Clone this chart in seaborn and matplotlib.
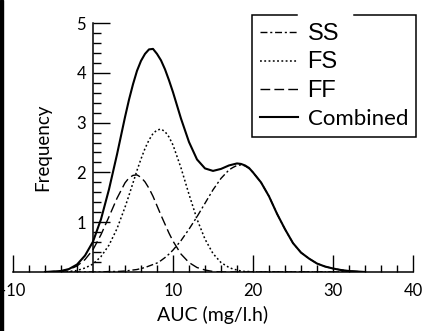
import matplotlib
matplotlib.use("Agg")
import numpy as np
import matplotlib.pyplot as plt
import seaborn as sns
from matplotlib.ticker import FixedLocator
from matplotlib.patches import Rectangle
from matplotlib.lines import Line2D

# values (AUC in mg/l.h), finer near the peaks
auc = [-6, -5, -4, -3, -2, -1, 0, 1, 2, 3, 4, 4.5, 5, 5.5, 6, 6.5, 7, 7.5,
       8, 8.5, 9, 9.5, 10, 11, 12, 13, 14, 15, 16, 17, 17.5, 18, 18.5, 19,
       19.5, 20, 21, 22, 23, 24, 25, 26, 27, 28, 29, 30, 31, 32, 33, 34]

ss_freq = [0, 0, 0, 0, 0, 0, 0, 0, 0.01, 0.01, 0.02, 0.03, 0.04, 0.05, 0.07,
           0.09, 0.12, 0.15, 0.18, 0.23, 0.29, 0.36, 0.44, 0.63, 0.86, 1.11,
           1.38, 1.65, 1.88, 2.05, 2.10, 2.14, 2.15, 2.13, 2.08, 2.00, 1.80,
           1.52, 1.17, 0.86, 0.58, 0.39, 0.27, 0.17, 0.11, 0.07, 0.04, 0.02,
           0.01, 0]

fs_freq = [0, 0, 0, 0.01, 0.03, 0.08, 0.16, 0.31, 0.54, 0.87, 1.30, 1.54,
           1.79, 2.04, 2.27, 2.48, 2.65, 2.78, 2.85, 2.87, 2.82, 2.71, 2.55,
           2.09, 1.56, 1.06, 0.66, 0.37, 0.19, 0.09, 0.06, 0.04, 0.02, 0.01,
           0.01, 0, 0, 0, 0, 0, 0, 0, 0, 0, 0, 0, 0, 0, 0, 0]

ff_freq = [0, 0.01, 0.02, 0.05, 0.12, 0.25, 0.45, 0.75, 1.11, 1.48, 1.79,
           1.89, 1.94, 1.95, 1.90, 1.81, 1.68, 1.52, 1.33, 1.14, 0.96, 0.78,
           0.62, 0.36, 0.19, 0.09, 0.04, 0.01, 0, 0, 0, 0, 0, 0, 0, 0, 0, 0,
           0, 0, 0, 0, 0, 0, 0, 0, 0, 0, 0, 0]

combined_freq = [0, 0.01, 0.02, 0.06, 0.15, 0.33, 0.61, 1.06, 1.66, 2.36,
                 3.11, 3.46, 3.77, 4.04, 4.24, 4.38, 4.47, 4.48, 4.38, 4.25,
                 4.07, 3.85, 3.61, 3.08, 2.61, 2.26, 2.08, 2.03, 2.07, 2.14,
                 2.16, 2.18, 2.17, 2.14, 2.09, 2.00, 1.80, 1.52, 1.17, 0.86,
                 0.58, 0.39, 0.27, 0.17, 0.11, 0.07, 0.04, 0.02, 0.01, 0]

x_ticks = [-10, 10, 20, 30, 40]
y_ticks = [1, 2, 3, 4, 5]

plt.rcParams["font.family"] = ["Lato", "DejaVu Sans"]

fig = plt.figure(figsize=(4.28, 3.31), dpi=100)
ax = fig.add_axes([13 / 428, 59 / 331, 400 / 428, 249 / 331])

sns.lineplot(x=auc, y=ss_freq, ax=ax, color="black", lw=1.0,
             linestyle=(0, (5, 2, 1.5, 2)), label="SS")
sns.lineplot(x=auc, y=fs_freq, ax=ax, color="black", lw=1.1,
             linestyle=(0, (1.2, 1.6)), label="FS")
sns.lineplot(x=auc, y=ff_freq, ax=ax, color="black", lw=1.0,
             linestyle=(0, (7, 3)), label="FF")
sns.lineplot(x=auc, y=combined_freq, ax=ax, color="black", lw=1.5,
             linestyle="-", label="Combined")

ax.set_xlim(-10, 40)
ax.set_ylim(0, 5)

# y axis crosses at x = 0, ticks point inward
ax.spines["top"].set_visible(False)
ax.spines["right"].set_visible(False)
ax.spines["left"].set_position(("data", 0))
for s in ("left", "bottom"):
    ax.spines[s].set_color("black")
    ax.spines[s].set_linewidth(1.1)

ax.xaxis.set_major_locator(FixedLocator(x_ticks))
ax.yaxis.set_major_locator(FixedLocator(y_ticks))
ax.set_xticklabels([str(t) for t in x_ticks])
ax.set_yticklabels([str(t) for t in y_ticks])

ax.tick_params(which="both", direction="in", color="black", width=1.0)
ax.tick_params(axis="x", which="major", length=12, pad=8, labelsize=12)
ax.tick_params(axis="y", which="major", length=12, pad=5, labelsize=12)

# short ticks drawn as segments (minor ticks kept vanishing)
x_minor = [v for v in np.arange(-8, 40, 2) if v % 10 != 0]
y_minor = [v for v in np.round(np.arange(0.2, 5.0, 0.2), 1) if v % 1 != 0]
ax.vlines(x_minor, 0, 7 / 249, transform=ax.get_xaxis_transform(),
          color="black", lw=1.0, clip_on=False, zorder=3)
ax.vlines([0], 0, 0, color="black")
ax.hlines(y_minor, 0.2, 0.2 + 8 / 400, transform=ax.get_yaxis_transform(),
          color="black", lw=1.0, clip_on=False, zorder=3)

ax.set_xlabel("AUC (mg/l.h)", fontsize=14)
ax.set_ylabel("Frequency", fontsize=13.5)
ax.xaxis.set_label_coords(0.5, -0.135)
ax.yaxis.set_label_coords(0.095, 0.5)

leg = ax.legend(loc="upper left", bbox_to_anchor=(252 / 428, 1 - 15 / 331),
                bbox_transform=fig.transFigure, borderaxespad=0,
                fontsize=16, frameon=True, fancybox=False, framealpha=1,
                edgecolor="black", handlelength=1.7, handletextpad=0.45,
                labelspacing=0.3, borderpad=0.35)
leg.get_frame().set_linewidth(1.1)
for txt in leg.get_texts():
    if txt.get_text() != "Combined":
        txt.set_fontfamily(["Liberation Sans", "DejaVu Sans"])
        txt.set_fontsize(17)

# scan artefacts: dark strip on the left edge, gap in the legend's top border
fig.add_artist(Rectangle((0, 0), 3 / 428, 1, transform=fig.transFigure,
                         color="black", zorder=5))
fig.add_artist(Line2D([299 / 428, 351 / 428], [1 - 15 / 331, 1 - 15 / 331],
                      transform=fig.transFigure, color="white", lw=2.5,
                      zorder=5))

fig.savefig("out.png", dpi=100)
